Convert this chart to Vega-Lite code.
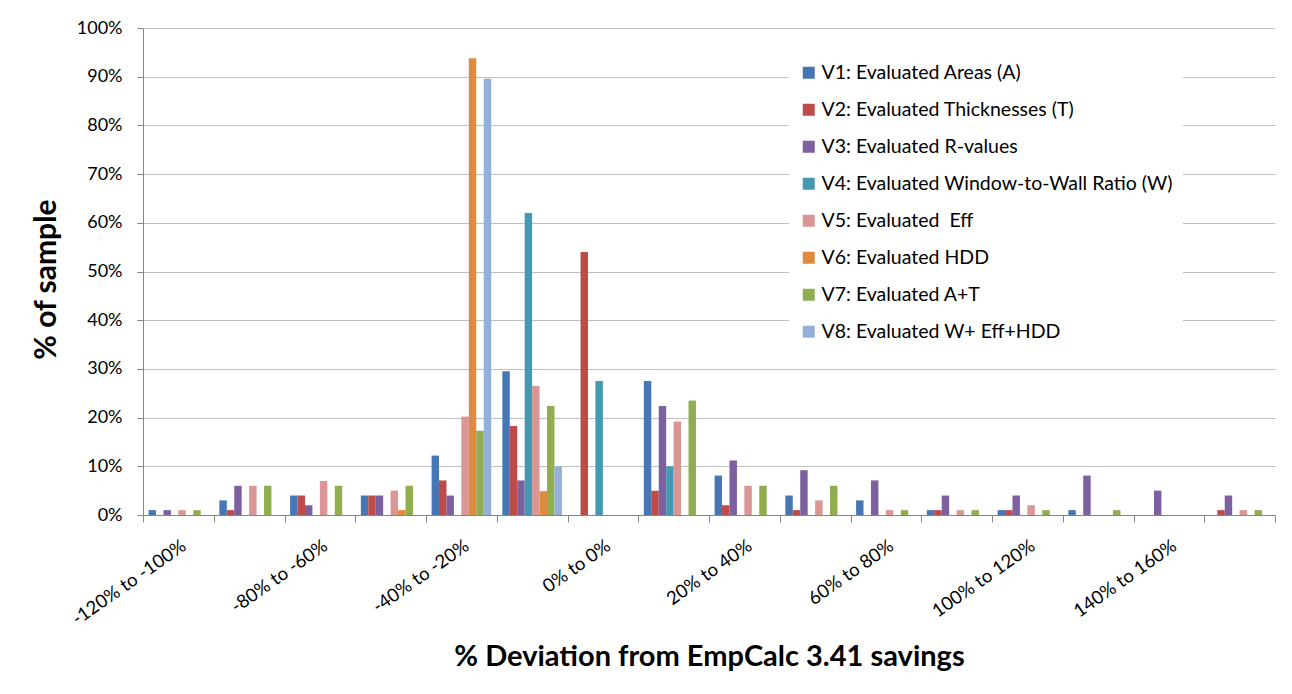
{
  "$schema": "https://vega.github.io/schema/vega-lite/v6.json",
  "width": 1132,
  "height": 487,
  "autosize": {"type": "none"},
  "padding": {"left": 143, "top": 28, "right": 17, "bottom": 179},
  "background": "white",
  "config": {"view": {"stroke": null}, "font": "Lato"},
  "data": {
    "values": [
      {"range": "-120% to -100%", "series": "V1: Evaluated Areas (A)", "share": 0.01},
      {"range": "-120% to -100%", "series": "V3: Evaluated R-values", "share": 0.01},
      {"range": "-120% to -100%", "series": "V5: Evaluated  Eff", "share": 0.01},
      {"range": "-120% to -100%", "series": "V7: Evaluated A+T", "share": 0.01},
      {"range": "-100% to -80%", "series": "V1: Evaluated Areas (A)", "share": 0.03},
      {"range": "-100% to -80%", "series": "V2: Evaluated Thicknesses (T)", "share": 0.01},
      {"range": "-100% to -80%", "series": "V3: Evaluated R-values", "share": 0.06},
      {"range": "-100% to -80%", "series": "V5: Evaluated  Eff", "share": 0.06},
      {"range": "-100% to -80%", "series": "V7: Evaluated A+T", "share": 0.06},
      {"range": "-80% to -60%", "series": "V1: Evaluated Areas (A)", "share": 0.04},
      {"range": "-80% to -60%", "series": "V2: Evaluated Thicknesses (T)", "share": 0.04},
      {"range": "-80% to -60%", "series": "V3: Evaluated R-values", "share": 0.02},
      {"range": "-80% to -60%", "series": "V5: Evaluated  Eff", "share": 0.07},
      {"range": "-80% to -60%", "series": "V7: Evaluated A+T", "share": 0.06},
      {"range": "-60% to -40%", "series": "V1: Evaluated Areas (A)", "share": 0.04},
      {"range": "-60% to -40%", "series": "V2: Evaluated Thicknesses (T)", "share": 0.04},
      {"range": "-60% to -40%", "series": "V3: Evaluated R-values", "share": 0.04},
      {"range": "-60% to -40%", "series": "V5: Evaluated  Eff", "share": 0.05},
      {"range": "-60% to -40%", "series": "V6: Evaluated HDD", "share": 0.01},
      {"range": "-60% to -40%", "series": "V7: Evaluated A+T", "share": 0.06},
      {"range": "-40% to -20%", "series": "V1: Evaluated Areas (A)", "share": 0.122},
      {"range": "-40% to -20%", "series": "V2: Evaluated Thicknesses (T)", "share": 0.071},
      {"range": "-40% to -20%", "series": "V3: Evaluated R-values", "share": 0.04},
      {"range": "-40% to -20%", "series": "V5: Evaluated  Eff", "share": 0.202},
      {"range": "-40% to -20%", "series": "V6: Evaluated HDD", "share": 0.938},
      {"range": "-40% to -20%", "series": "V7: Evaluated A+T", "share": 0.173},
      {"range": "-40% to -20%", "series": "V8: Evaluated W+ Eff+HDD", "share": 0.896},
      {"range": "-20% to 0%", "series": "V1: Evaluated Areas (A)", "share": 0.295},
      {"range": "-20% to 0%", "series": "V2: Evaluated Thicknesses (T)", "share": 0.183},
      {"range": "-20% to 0%", "series": "V3: Evaluated R-values", "share": 0.071},
      {"range": "-20% to 0%", "series": "V4: Evaluated Window-to-Wall Ratio (W)", "share": 0.62},
      {"range": "-20% to 0%", "series": "V5: Evaluated  Eff", "share": 0.265},
      {"range": "-20% to 0%", "series": "V6: Evaluated HDD", "share": 0.049},
      {"range": "-20% to 0%", "series": "V7: Evaluated A+T", "share": 0.224},
      {"range": "-20% to 0%", "series": "V8: Evaluated W+ Eff+HDD", "share": 0.1},
      {"range": "0% to 0%", "series": "V2: Evaluated Thicknesses (T)", "share": 0.54},
      {"range": "0% to 0%", "series": "V4: Evaluated Window-to-Wall Ratio (W)", "share": 0.275},
      {"range": "0% to 20%", "series": "V1: Evaluated Areas (A)", "share": 0.275},
      {"range": "0% to 20%", "series": "V2: Evaluated Thicknesses (T)", "share": 0.05},
      {"range": "0% to 20%", "series": "V3: Evaluated R-values", "share": 0.224},
      {"range": "0% to 20%", "series": "V4: Evaluated Window-to-Wall Ratio (W)", "share": 0.1},
      {"range": "0% to 20%", "series": "V5: Evaluated  Eff", "share": 0.192},
      {"range": "0% to 20%", "series": "V7: Evaluated A+T", "share": 0.235},
      {"range": "20% to 40%", "series": "V1: Evaluated Areas (A)", "share": 0.081},
      {"range": "20% to 40%", "series": "V2: Evaluated Thicknesses (T)", "share": 0.02},
      {"range": "20% to 40%", "series": "V3: Evaluated R-values", "share": 0.112},
      {"range": "20% to 40%", "series": "V5: Evaluated  Eff", "share": 0.06},
      {"range": "20% to 40%", "series": "V7: Evaluated A+T", "share": 0.06},
      {"range": "40% to 60%", "series": "V1: Evaluated Areas (A)", "share": 0.04},
      {"range": "40% to 60%", "series": "V2: Evaluated Thicknesses (T)", "share": 0.01},
      {"range": "40% to 60%", "series": "V3: Evaluated R-values", "share": 0.092},
      {"range": "40% to 60%", "series": "V5: Evaluated  Eff", "share": 0.03},
      {"range": "40% to 60%", "series": "V7: Evaluated A+T", "share": 0.06},
      {"range": "60% to 80%", "series": "V1: Evaluated Areas (A)", "share": 0.03},
      {"range": "60% to 80%", "series": "V3: Evaluated R-values", "share": 0.071},
      {"range": "60% to 80%", "series": "V5: Evaluated  Eff", "share": 0.01},
      {"range": "60% to 80%", "series": "V7: Evaluated A+T", "share": 0.01},
      {"range": "80% to 100%", "series": "V1: Evaluated Areas (A)", "share": 0.01},
      {"range": "80% to 100%", "series": "V2: Evaluated Thicknesses (T)", "share": 0.01},
      {"range": "80% to 100%", "series": "V3: Evaluated R-values", "share": 0.04},
      {"range": "80% to 100%", "series": "V5: Evaluated  Eff", "share": 0.01},
      {"range": "80% to 100%", "series": "V7: Evaluated A+T", "share": 0.01},
      {"range": "100% to 120%", "series": "V1: Evaluated Areas (A)", "share": 0.01},
      {"range": "100% to 120%", "series": "V2: Evaluated Thicknesses (T)", "share": 0.01},
      {"range": "100% to 120%", "series": "V3: Evaluated R-values", "share": 0.04},
      {"range": "100% to 120%", "series": "V5: Evaluated  Eff", "share": 0.02},
      {"range": "100% to 120%", "series": "V7: Evaluated A+T", "share": 0.01},
      {"range": "120% to 140%", "series": "V1: Evaluated Areas (A)", "share": 0.01},
      {"range": "120% to 140%", "series": "V3: Evaluated R-values", "share": 0.081},
      {"range": "120% to 140%", "series": "V7: Evaluated A+T", "share": 0.01},
      {"range": "140% to 160%", "series": "V3: Evaluated R-values", "share": 0.05},
      {"range": "160% to 180%", "series": "V2: Evaluated Thicknesses (T)", "share": 0.01},
      {"range": "160% to 180%", "series": "V3: Evaluated R-values", "share": 0.04},
      {"range": "160% to 180%", "series": "V5: Evaluated  Eff", "share": 0.01},
      {"range": "160% to 180%", "series": "V7: Evaluated A+T", "share": 0.01}
    ]
  },
  "mark": {"type": "bar"},
  "encoding": {
    "x": {
      "field": "range",
      "type": "nominal",
      "sort": ["-120% to -100%", "-100% to -80%", "-80% to -60%", "-60% to -40%", "-40% to -20%", "-20% to 0%", "0% to 0%", "0% to 20%", "20% to 40%", "40% to 60%", "60% to 80%", "80% to 100%", "100% to 120%", "120% to 140%", "140% to 160%", "160% to 180%"],
      "scale": {"paddingInner": 0, "paddingOuter": 0},
      "title": "% Deviation from EmpCalc 3.41 savings",
      "axis": {
        "tickBand": "extent",
        "tickSize": 7,
        "tickColor": "#868686",
        "domainColor": "#868686",
        "labelAngle": -35,
        "labelFontSize": 18.5,
        "labelColor": "#000000",
        "labelPadding": 14,
        "labelExpr": "indexof(['-120% to -100%', '-80% to -60%', '-40% to -20%', '0% to 0%', '20% to 40%', '60% to 80%', '100% to 120%', '140% to 160%'], datum.value) >= 0 ? datum.label : ''",
        "titleFontSize": 29,
        "titleFontWeight": "bold",
        "titleColor": "#000000",
        "titleX": 566,
        "titleY": 141,
        "titleBaseline": "middle",
        "titleAlign": "center"
      }
    },
    "xOffset": {
      "field": "series",
      "type": "nominal",
      "scale": {
        "domain": ["V1: Evaluated Areas (A)", "V2: Evaluated Thicknesses (T)", "V3: Evaluated R-values", "V4: Evaluated Window-to-Wall Ratio (W)", "V5: Evaluated  Eff", "V6: Evaluated HDD", "V7: Evaluated A+T", "V8: Evaluated W+ Eff+HDD"],
        "paddingInner": 0,
        "paddingOuter": 0.75
      }
    },
    "y": {
      "field": "share",
      "type": "quantitative",
      "scale": {"domain": [0, 1]},
      "title": "% of sample",
      "axis": {
        "format": ".0%",
        "values": [0, 0.1, 0.2, 0.3, 0.4, 0.5, 0.6, 0.7, 0.8, 0.9, 1],
        "grid": true,
        "gridColor": "#BFBFBF",
        "domainColor": "#868686",
        "tickColor": "#868686",
        "tickSize": 6,
        "labelFontSize": 18,
        "labelColor": "#000000",
        "labelPadding": 15,
        "titleFontSize": 30,
        "titleFontWeight": "bold",
        "titleColor": "#000000",
        "titleX": -97,
        "titleY": 251,
        "titleBaseline": "middle",
        "titleAlign": "center"
      }
    },
    "color": {
      "field": "series",
      "type": "nominal",
      "scale": {
        "domain": ["V1: Evaluated Areas (A)", "V2: Evaluated Thicknesses (T)", "V3: Evaluated R-values", "V4: Evaluated Window-to-Wall Ratio (W)", "V5: Evaluated  Eff", "V6: Evaluated HDD", "V7: Evaluated A+T", "V8: Evaluated W+ Eff+HDD"],
        "range": ["#4677B4", "#BE4B48", "#7D60A0", "#4399B1", "#D99694", "#E08A3F", "#90AE50", "#95B0D8"]
      },
      "legend": {
        "orient": "none",
        "legendX": 646,
        "legendY": 25,
        "title": null,
        "padding": 10,
        "fillColor": "white",
        "symbolType": "square",
        "symbolSize": 144,
        "symbolStrokeWidth": 0,
        "labelFontSize": 19.5,
        "labelColor": "#000000",
        "labelOffset": 3,
        "labelLimit": 500,
        "rowPadding": 16,
        "labelExpr": "replace(datum.label, 'Evaluated  Eff', 'Evaluated\u00a0 Eff')"
      }
    }
  }
}
